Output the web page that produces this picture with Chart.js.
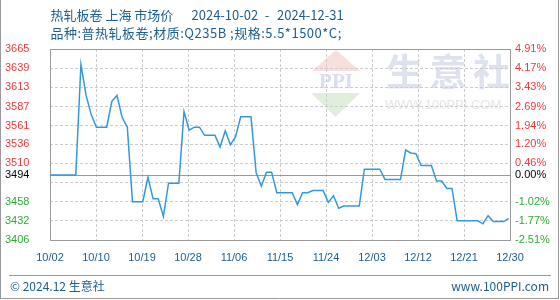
<!DOCTYPE html>
<html><head><meta charset="utf-8">
<script src="https://cdn.jsdelivr.net/npm/chart.js@4.4.1/dist/chart.umd.min.js"></script>
<style>html,body{margin:0;padding:0;background:#fff;}canvas{display:block;}</style>
</head><body>
<canvas id="c" width="560" height="300"></canvas>
<script>
// ---- text ----
const titleName = '热轧板卷 上海 市场价';
const titleStart = '2024-10-02';
const titleSep = '-';
const titleEnd = '2024-12-31';
const subtitleText = '品种:普热轧板卷;材质:Q235B ;规格:5.5*1500*C;';
const footerLeft = '© 2024.12 生意社';
const footerRight = 'www.100PPI.com';
const watermarkChars = ['生', '意', '社'];
const watermarkUrl = 'WWW.100PPI.COM';
const logoText = 'PPI';

// ---- axes ----
const xLabels = ['10/02','10/10','10/19','10/28','11/06','11/15','11/24','12/03','12/12','12/21','12/30'];
const xMax = 89.25;
const baseValue = 3494;
const baseLabel = '3494';
const basePctLabel = '0.00%';
const yMin = 3406, yMax = 3665;
const yTickValues = [3406, 3432, 3458, 3484, 3510, 3536, 3561, 3587, 3613, 3639, 3665];
const yTickLabels = ['3406','3432','3458','','3510','3536','3561','3587','3613','3639','3665'];
const pctTickLabels = ['-2.51%','-1.77%','-1.02%','','0.46%','1.20%','1.94%','2.69%','3.43%','4.17%','4.91%'];

// ---- series (one value per trading point) ----
const prices = [
  3494,3494,3494,3494,3494,3494,3644,3602,3576,3559,
  3559,3559,3594,3602,3572,3559,3458,3458,3458,3491,
  3462,3462,3438,3483,3483,3483,3580,3555,3559,3559,
  3548,3548,3548,3532,3554,3535,3546,3573,3573,3573,
  3497,3479,3498,3498,3470,3470,3470,3470,3454,3470,
  3470,3473,3473,3473,3457,3466,3449,3452,3452,3452,
  3452,3502,3502,3502,3502,3488,3488,3488,3488,3528,
  3524,3523,3507,3507,3507,3486,3486,3476,3476,3432,
  3432,3432,3432,3432,3428,3439,3431,3431,3431,3435
];

const BLUE_TEXT = '#1b5e8f';
const RED = '#f03a3a', GREEN = '#2eaa3a', BLACK = '#000000';
const tickFont = { family: '"Liberation Sans", Arial, sans-serif', size: 11 };

function tickColor(ctx) {
  const v = ctx.tick ? ctx.tick.value : 0;
  if (v > baseValue) return RED;
  if (v < baseValue) return GREEN;
  return BLACK;
}
function isBase(ctx) { return ctx.tick && ctx.tick.value === baseValue; }
function setYTicks(scale) {
  scale.ticks = yTickValues.concat([baseValue]).map(v => ({ value: v }));
}

const decor = {
  id: 'decor',
  beforeDraw(chart) {
    const ctx = chart.ctx;
    ctx.save();
    ctx.fillStyle = '#ffffff';
    ctx.fillRect(0, 0, chart.width, chart.height);
    // outer frame (left, right, bottom)
    ctx.strokeStyle = '#9a9a9a';
    ctx.lineWidth = 1;
    ctx.beginPath();
    ctx.moveTo(0.5, 0); ctx.lineTo(0.5, 299);
    ctx.moveTo(558.5, 0); ctx.lineTo(558.5, 299);
    ctx.moveTo(0, 298.5); ctx.lineTo(559, 298.5);
    ctx.stroke();
    // watermark logo
    ctx.fillStyle = '#f8dfdb';
    ctx.beginPath(); ctx.moveTo(312, 71); ctx.lineTo(360, 71); ctx.lineTo(336, 50); ctx.closePath(); ctx.fill();
    ctx.fillStyle = '#dfefdc';
    ctx.beginPath(); ctx.moveTo(311, 93); ctx.lineTo(360, 93); ctx.lineTo(335.5, 117); ctx.closePath(); ctx.fill();
    ctx.fillStyle = '#d8deed';
    ctx.font = 'bold 21px "Liberation Serif", serif';
    ctx.textAlign = 'center'; ctx.textBaseline = 'middle';
    ctx.fillText(logoText, 336, 83);
    // watermark chars
    ctx.font = 'bold 37px "Noto Sans CJK SC"';
    ctx.fillStyle = '#dde2ee';
    ctx.textAlign = 'left';
    const wx = [386, 429.5, 473];
    watermarkChars.forEach((c, i) => ctx.fillText(c, wx[i], 72));
    ctx.font = '13px "Liberation Sans", Arial, sans-serif';
    ctx.fillStyle = '#e6e6e6';
    ctx.fillText(watermarkUrl, 385, 105);
    // titles
    ctx.fillStyle = BLUE_TEXT;
    ctx.font = '13px "Noto Sans CJK SC"';
    ctx.fillText(titleName, 50.5, 15);
    ctx.fillText(titleStart, 191.5, 15);
    ctx.textAlign = 'center';
    ctx.fillText(titleSep, 267, 15);
    ctx.textAlign = 'left';
    ctx.fillText(titleEnd, 277, 15);
    if ('letterSpacing' in ctx) ctx.letterSpacing = '0.5px';
    ctx.fillText(subtitleText, 50.5, 33);
    if ('letterSpacing' in ctx) ctx.letterSpacing = '0px';
    // footer
    ctx.font = '12px "Noto Sans CJK SC"';
    ctx.strokeStyle = '#9a9a9a';
    ctx.beginPath(); ctx.moveTo(9, 275.5); ctx.lineTo(551, 275.5); ctx.stroke();
    ctx.fillText(footerLeft, 10, 286);
    ctx.textAlign = 'right';
    ctx.fillText(footerRight, 549, 286);
    ctx.restore();
  },
  beforeDatasetsDraw(chart) {
    const { ctx, chartArea: a } = chart;
    ctx.save();
    ctx.strokeStyle = '#9a9a9a';
    ctx.lineWidth = 1;
    ctx.strokeRect(Math.round(a.left) + 0.5, Math.round(a.top) + 0.5,
                   Math.round(a.right - a.left), Math.round(a.bottom - a.top));
    const y = Math.round(chart.scales.y.getPixelForValue(baseValue)) + 0.5;
    ctx.beginPath(); ctx.moveTo(a.left, y); ctx.lineTo(a.right, y); ctx.stroke();
    ctx.restore();
  }
};

new Chart(document.getElementById('c'), {
  type: 'line',
  data: {
    datasets: [{
      data: prices.map((v, i) => ({ x: i, y: v })),
      borderColor: '#3399dd',
      borderWidth: 1.5,
      pointRadius: 0,
      tension: 0,
      fill: false
    }]
  },
  options: {
    responsive: false,
    animation: false,
    devicePixelRatio: 1,
    layout: { padding: { left: 5, right: 0, top: 49, bottom: 0 } },
    plugins: { legend: { display: false }, tooltip: { enabled: false } },
    scales: {
      x: {
        type: 'linear', min: 0, max: xMax,
        afterBuildTicks: s => { s.ticks = xLabels.map((l, k) => ({ value: k * xMax / (xLabels.length - 1) })); },
        afterFit: s => { s.height = 60; },
        grid: { color: '#cccccc', lineWidth: 1, drawTicks: false },
        border: { display: false, dash: [3, 2] },
        ticks: {
          autoSkip: false, maxRotation: 0, padding: 11,
          color: BLUE_TEXT, font: tickFont,
          callback: (v, i) => xLabels[i]
        }
      },
      y: {
        type: 'linear', position: 'left', min: yMin, max: yMax,
        afterBuildTicks: setYTicks,
        afterFit: s => { s.width = 45; },
        grid: { color: ctx => isBase(ctx) ? '#9a9a9a' : '#cccccc', lineWidth: 1, drawTicks: false },
        border: { display: false, dash: ctx => isBase(ctx) ? [] : [3, 2] },
        ticks: {
          autoSkip: false, crossAlign: 'far', padding: 0,
          color: tickColor, font: tickFont,
          callback: (v, i) => i < yTickLabels.length ? yTickLabels[i] : baseLabel
        }
      },
      y2: {
        type: 'linear', position: 'right', min: yMin, max: yMax,
        afterBuildTicks: setYTicks,
        afterFit: s => { s.width = 50; },
        grid: { drawOnChartArea: false, drawTicks: false },
        border: { display: false },
        ticks: {
          autoSkip: false, padding: 5,
          color: tickColor, font: tickFont,
          callback: (v, i) => i < pctTickLabels.length ? pctTickLabels[i] : basePctLabel
        }
      }
    }
  },
  plugins: [decor]
});
</script>
</body></html>
